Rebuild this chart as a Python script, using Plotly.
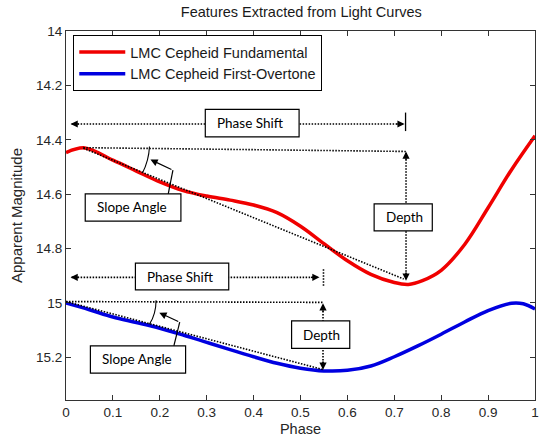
import plotly.graph_objects as go

# ---------------- data ----------------
phase_fund = [0.0, 0.04, 0.1, 0.15, 0.2, 0.25, 0.3, 0.35, 0.4, 0.45, 0.5, 0.55,
              0.6, 0.65, 0.7, 0.73, 0.76, 0.8, 0.85, 0.9, 0.95, 1.0]
mag_fund = [14.447, 14.430, 14.475, 14.515, 14.555, 14.587, 14.607, 14.622, 14.640,
            14.668, 14.718, 14.782, 14.845, 14.895, 14.925, 14.932, 14.918, 14.880,
            14.785, 14.650, 14.510, 14.385]

phase_fo = [0.0, 0.05, 0.1, 0.15, 0.2, 0.25, 0.3, 0.35, 0.4, 0.45, 0.5, 0.55, 0.6,
            0.65, 0.7, 0.75, 0.8, 0.85, 0.9, 0.95, 0.975, 1.0]
mag_fo = [15.000, 15.025, 15.052, 15.072, 15.093, 15.118, 15.145, 15.172, 15.198,
          15.222, 15.240, 15.250, 15.248, 15.232, 15.198, 15.158, 15.115, 15.070,
          15.028, 15.001, 15.003, 15.022]

series_names = ["LMC Cepheid Fundamental", "LMC Cepheid First-Overtone"]
x_ticks = [0, 0.1, 0.2, 0.3, 0.4, 0.5, 0.6, 0.7, 0.8, 0.9, 1]
y_ticks = [14, 14.2, 14.4, 14.6, 14.8, 15, 15.2]
y_tick_labels = ["14", "14.2", "14.4", "14.6", "14.8", "15", "15.2"]

FONT = "Liberation Sans, Arial, sans-serif"
BOXFONT = "Lato, Open Sans, sans-serif"

fig = go.Figure()
fig.add_trace(go.Scatter(x=phase_fund, y=mag_fund, mode="lines", name=series_names[0],
                         line=dict(color="#f00000", width=3.5, shape="spline")))
fig.add_trace(go.Scatter(x=phase_fo, y=mag_fo, mode="lines", name=series_names[1],
                         line=dict(color="#0000e0", width=3.5, shape="spline")))

shapes = []
annots = []
DOT = "1.5px,1.5px"


def dline(x0, y0, x1, y1, dash=DOT, w=1.6):
    shapes.append(dict(type="line", xref="x", yref="y", x0=x0, y0=y0, x1=x1, y1=y1,
                       line=dict(color="black", width=w, dash=dash)))


def sline(x0, y0, x1, y1, w=1.2):
    shapes.append(dict(type="line", xref="x", yref="y", x0=x0, y0=y0, x1=x1, y1=y1,
                       line=dict(color="black", width=w)))


def box(x0, y0, x1, y1, label):
    shapes.append(dict(type="rect", xref="x", yref="y", x0=x0, y0=y0, x1=x1, y1=y1,
                       line=dict(color="black", width=1.2), fillcolor="white"))
    annots.append(dict(x=x0 + 0.021, y=(y0 + y1) / 2, xref="x", yref="y", text=label,
                       showarrow=False, xanchor="left", yanchor="middle",
                       font=dict(family=BOXFONT, size=13.5, color="black")))


def head(x, y, ax, ay):
    annots.append(dict(x=x, y=y, xref="x", yref="y", ax=ax, ay=ay, text="",
                       showarrow=True, arrowhead=2, arrowsize=1.2, arrowwidth=1.2,
                       arrowcolor="black"))


# ---- top (fundamental) annotations ----
dline(0.012, 14.342, 0.718, 14.342)
head(0.0097, 14.342, 10, 0)
head(0.722, 14.342, -10, 0)
sline(0.724, 14.30, 0.724, 14.368, w=1.3)
box(0.297, 14.288, 0.497, 14.389, "Phase Shift")
dline(0.037, 14.429, 0.725, 14.443)
dline(0.037, 14.431, 0.72, 14.912)
dline(0.725, 14.45, 0.725, 14.91)
head(0.725, 14.443, 0, 10)
head(0.725, 14.918, 0, -10)
box(0.657, 14.636, 0.781, 14.735, "Depth")
shapes.append(dict(type="path", xref="x", yref="y",
                   path="M 0.178,14.425 Q 0.1765,14.478 0.163,14.522",
                   line=dict(color="black", width=1.1)))
annots.append(dict(x=0.18, y=14.473, xref="x", yref="y", ax=0.228, ay=14.512,
                   axref="x", ayref="y", text="", showarrow=True, arrowhead=2,
                   arrowsize=1.2, arrowwidth=1.2, arrowcolor="black"))
sline(0.228, 14.512, 0.218, 14.599)
box(0.041, 14.599, 0.245, 14.699, "Slope Angle")

# ---- bottom (first-overtone) annotations ----
dline(0.012, 14.906, 0.536, 14.906)
head(0.0097, 14.906, 10, 0)
head(0.5405, 14.906, -10, 0)
dline(0.549, 14.876, 0.549, 14.942)
box(0.148, 14.854, 0.347, 14.952, "Phase Shift")
dline(0.0, 14.995, 0.548, 14.998)
dline(0.0, 14.995, 0.548, 15.245)
dline(0.548, 15.008, 0.548, 15.24)
head(0.548, 15.001, 0, 10)
head(0.548, 15.246, 0, -10)
box(0.481, 15.066, 0.605, 15.167, "Depth")
shapes.append(dict(type="path", xref="x", yref="y",
                   path="M 0.192,14.99 Q 0.192,15.041 0.178,15.078",
                   line=dict(color="black", width=1.1)))
annots.append(dict(x=0.199, y=15.036, xref="x", yref="y", ax=0.2425, ay=15.071,
                   axref="x", ayref="y", text="", showarrow=True, arrowhead=2,
                   arrowsize=1.2, arrowwidth=1.2, arrowcolor="black"))
sline(0.2425, 15.071, 0.230, 15.158)
box(0.052, 15.158, 0.255, 15.258, "Slope Angle")

axis_common = dict(showline=True, linecolor="#333333", linewidth=1, mirror="ticks",
                   ticks="inside", ticklen=5, tickcolor="#333333", showgrid=False,
                   zeroline=False, ticklabeloverflow="allow",
                   tickfont=dict(family=FONT, size=13.5, color="#262626"))

fig.update_layout(
    width=540, height=440,
    margin=dict(l=66, r=1, t=31, b=40),
    paper_bgcolor="white", plot_bgcolor="white",
    title=dict(text="Features Extracted from Light Curves", x=0.558, xanchor="center",
               y=1 - 12 / 440, yref="container", yanchor="middle",
               font=dict(family=FONT, size=14.5, color="#1a1a1a")),
    xaxis=dict(range=[0, 1], tickvals=x_ticks, **axis_common,
               title=dict(text="Phase", standoff=4,
                          font=dict(family=FONT, size=14.5, color="#262626"))),
    yaxis=dict(range=[15.357, 14], tickvals=y_ticks, ticktext=y_tick_labels,
               **axis_common,
               title=dict(text="Apparent Magnitude", standoff=9,
                          font=dict(family=FONT, size=15, color="#262626"))),
    legend=dict(x=0.0155, y=0.989, xanchor="left", yanchor="top", bgcolor="white",
                bordercolor="black", borderwidth=1, itemwidth=46,
                font=dict(family=FONT, size=14.5, color="#1a1a1a"), tracegroupgap=0),
    shapes=shapes, annotations=annots,
)

fig.write_html("out.html", config={"displayModeBar": False},
               post_script="document.body.style.margin='0';document.body.style.padding='0';")
